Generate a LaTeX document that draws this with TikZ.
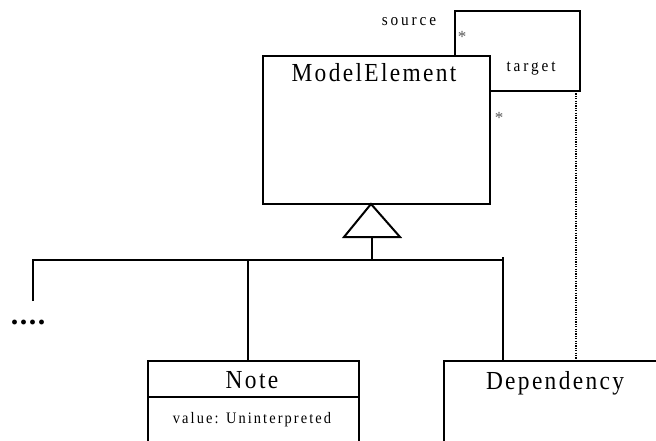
\documentclass[tikz,border=0pt]{standalone}
\usepackage{fontspec}
\setmainfont{Liberation Serif}
\newfontfamily\umlbig[LetterSpace=9,FakeStretch=0.9]{Liberation Serif}
\newfontfamily\umlsmall[LetterSpace=17,FakeStretch=0.9]{Liberation Serif}
\newfontfamily\umlval[LetterSpace=13,FakeStretch=0.9]{Liberation Serif}
\tikzset{
  umlbox/.style={draw, line width=2pt, inner sep=0pt, anchor=north west},
  bigtxt/.style={inner sep=0pt, anchor=base, font=\umlbig\fontsize{26}{26}\selectfont},
  smalltxt/.style={inner sep=0pt, anchor=base, font=\umlsmall\fontsize{17}{17}\selectfont},
  startxt/.style={inner sep=0pt, text=black!65, font=\fontsize{17}{17}\selectfont},
  assoc/.style={line width=2pt},
  depline/.style={line width=1.4pt, dash pattern=on 1.2pt off 1.2pt},
}
\begin{document}
\begin{tikzpicture}[x=1pt,y=-1pt]
\useasboundingbox (0,0) rectangle (656,441);
\clip (0,0) rectangle (656,441);
\fill[white] (0,0) rectangle (656,441);
% ModelElement
\node[umlbox, minimum width=227pt, minimum height=148pt] (me) at (262,55) {};
\node[bigtxt] (metxt) at (374,82) {ModelElement};
% self association
\coordinate (src) at (455,55);
\coordinate (lp1) at (580,11);
\coordinate (tgt) at (489,91);
\draw[assoc] (src) |- (lp1) |- (tgt);
\node[smalltxt] (srclbl) at (409,26) {source};
\node[smalltxt] (tgtlbl) at (531,72) {target};
\node[startxt] (s1) at (462,37) {*};
\node[startxt] (s2) at (499,118) {*};
% generalization
\coordinate (apex) at (371,204);
\coordinate (tl) at (344,237);
\coordinate (tr) at (400,237);
\draw[line width=2pt, line join=miter] (apex) -- (tl) -- (tr) -- cycle;
\coordinate (stem) at (372,237);
\coordinate (bus) at (372,260);
\coordinate (busL) at (33,260);
\coordinate (busR) at (503,260);
\coordinate (leftend) at (33,301);
\draw[assoc] (stem) -- (bus);
\draw[assoc] (leftend) -- (busL) -- (busR);
\node[inner sep=0pt, anchor=base, font=\bfseries\fontsize{30}{30}\selectfont] (dots) at (28,324) {.\hspace{1.5pt}.\hspace{1.5pt}.\hspace{1.5pt}.};
% Note
\node[umlbox, minimum width=211pt, minimum height=120pt] (note) at (147,360) {};
\draw[assoc] (147,397) -- (358,397);
\node[bigtxt] (notetxt) at (252,388) {Note};
\node[inner sep=0pt, anchor=base, font=\umlval\fontsize{16}{16}\selectfont] (val) at (252,423) {value: Uninterpreted};
\draw[assoc] (248,260) -- (note.north -| 248,0);
% Dependency
\node[umlbox, minimum width=260pt, minimum height=120pt] (dep) at (443,360) {};
\node[bigtxt] (deptxt) at (555,389) {Dependency};
\draw[assoc] (503,257) -- (dep.north -| 503,0);
\draw[depline] (576,91) -- (dep.north -| 576,0);
\end{tikzpicture}
\end{document}
